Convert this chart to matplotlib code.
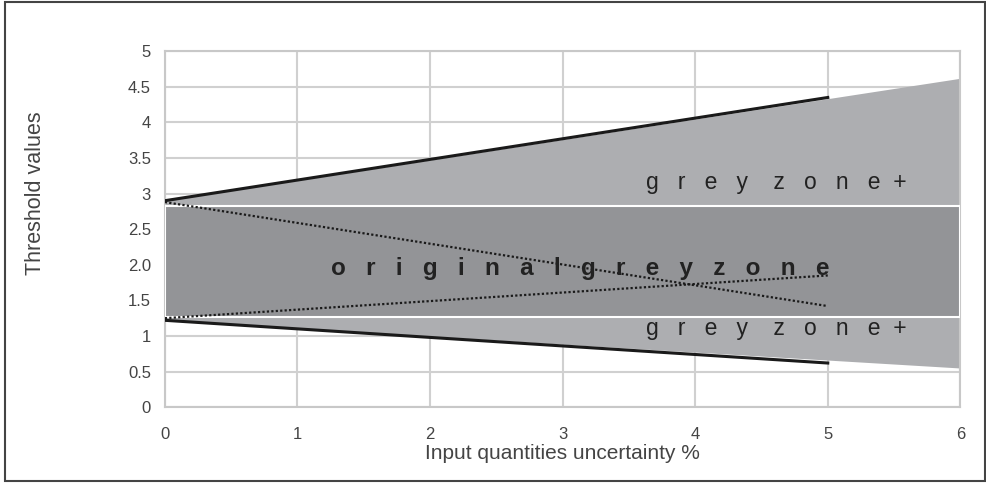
import numpy as np
import matplotlib.pyplot as plt
from matplotlib.patches import Rectangle

plt.rcParams['font.family'] = ['Liberation Sans', 'DejaVu Sans']

# valores
x_zona = [0, 6]
zona_sup = [2.9, 4.62]      # limite superior da zona cinza+
zona_inf = [1.22, 0.55]     # limite inferior da zona cinza+
orig_inf, orig_sup = 1.27, 2.83   # zona cinza original

x_lim = [0, 5]
lim_sup = [2.9, 4.35]
lim_inf = [1.22, 0.62]
pont_desc = [2.88, 1.42]
pont_asc = [1.25, 1.85]

yticks = [0, 0.5, 1, 1.5, 2, 2.5, 3, 3.5, 4, 4.5, 5]
ylabels = ['0', '0.5', '1', '1.5', '2.0', '2.5', '3', '3.5', '4', '4.5', '5']

fig = plt.figure(figsize=(9.87, 4.83), dpi=100)
ax = fig.add_axes([0.167, 0.157, 0.806, 0.737])

ax.fill_between(x_zona, zona_inf, zona_sup, color='#adaeb1', lw=0, zorder=2)
ax.add_patch(Rectangle((0, orig_inf), 6, orig_sup - orig_inf, facecolor='#939497',
                       edgecolor='white', lw=1.5, zorder=3))

ax.plot(x_lim, lim_sup, color='#1a1a1a', lw=2.2, zorder=5)
ax.plot(x_lim, lim_inf, color='#1a1a1a', lw=2.2, zorder=5)
ax.plot(x_lim, pont_desc, color='#1a1a1a', lw=1.6, ls=(0, (1, 1)), zorder=5)
ax.plot(x_lim, pont_asc, color='#1a1a1a', lw=1.6, ls=(0, (1, 1)), zorder=5)

zona_txt = 'g   r   e   y    z   o   n   e  +'
ax.text(4.61, 3.16, zona_txt, ha='center', va='center',
        fontsize=16.5, color='#222222', zorder=6)
ax.text(4.61, 1.1, zona_txt, ha='center', va='center',
        fontsize=16.5, color='#222222', zorder=6)
ax.text(3.13, 1.95, '   '.join('originalgreyzone'),
        ha='center', va='center', fontsize=17.5, fontweight='bold',
        color='#222222', zorder=6)

ax.set_xlim(0, 6)
ax.set_ylim(0, 5)
ax.set_xticks(range(7))
ax.set_yticks(yticks)
ax.set_yticklabels(ylabels)
ax.grid(True, color='#d0d0d0', lw=1.5, zorder=0)
ax.set_axisbelow(True)
for s in ax.spines.values():
    s.set_color('#c8c8c8')
    s.set_linewidth(1.5)
ax.tick_params(axis='y', length=0, labelsize=12, colors='#444444', pad=10)
ax.tick_params(axis='x', length=0, labelsize=12, colors='#444444', pad=14)
ax.set_xlabel('Input quantities uncertainty %', fontsize=15, color='#444444', labelpad=2)
ax.set_ylabel('Threshold values', fontsize=15.5, color='#444444')
ax.yaxis.set_label_coords(-0.150, 0.60)

# moldura externa
fig.patches.append(Rectangle((0.005, 0.005), 0.993, 0.99, transform=fig.transFigure,
                             fill=False, edgecolor='#444444', lw=1.5))

fig.savefig('out.png', dpi=100)
